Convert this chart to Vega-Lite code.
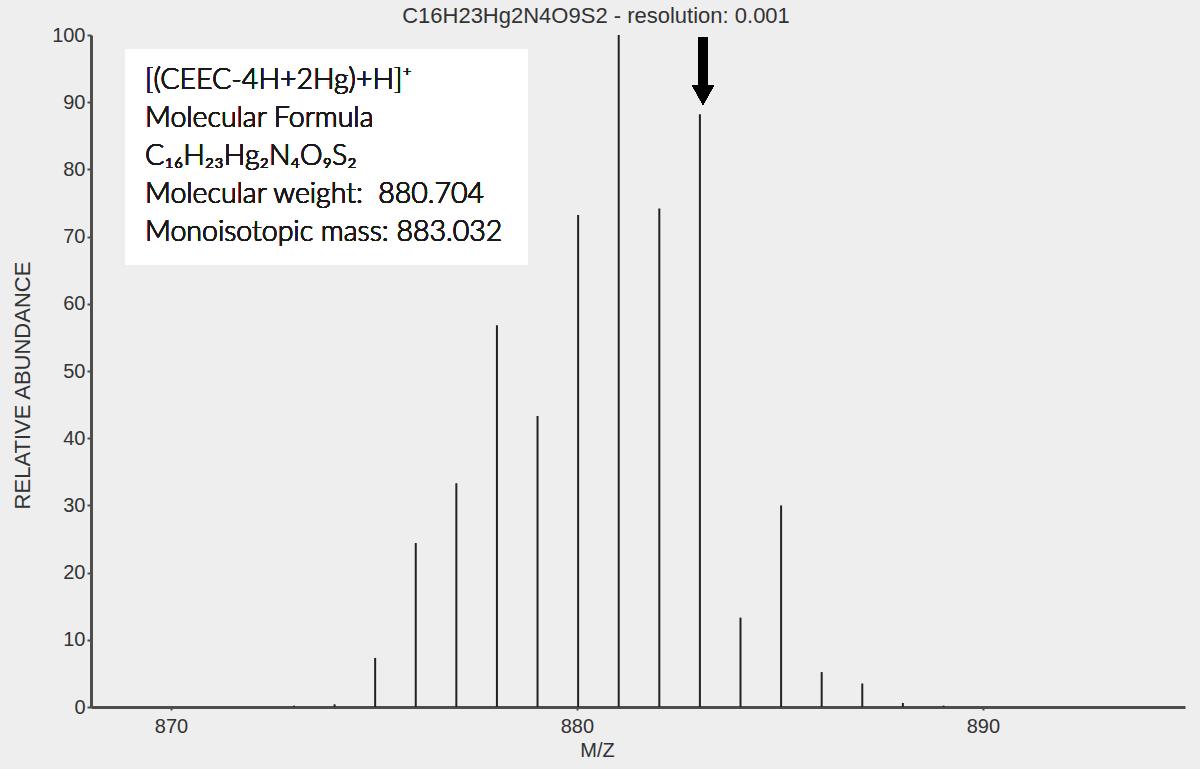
{
  "$schema": "https://vega.github.io/schema/vega-lite/v6.json",
  "width": 1094,
  "height": 672,
  "autosize": {"type": "none"},
  "padding": {"left": 91, "top": 35, "right": 15, "bottom": 62},
  "background": "#eeeeee",
  "title": {
    "text": "C16H23Hg2N4O9S2 - resolution: 0.001",
    "font": "Liberation Sans",
    "fontSize": 22,
    "fontWeight": "normal",
    "color": "#333333",
    "anchor": "middle",
    "frame": "group",
    "dx": -42,
    "dy": 7,
    "offset": 4
  },
  "config": {
    "view": {"stroke": null, "fill": "#eeeeee"},
    "axis": {
      "labelFont": "Liberation Sans",
      "titleFont": "Liberation Sans",
      "labelColor": "#333333",
      "titleColor": "#333333",
      "domainColor": "#4d4d4d",
      "tickColor": "#4d4d4d",
      "grid": false
    }
  },
  "data": {
    "values": [
      {"mz": 873.03, "abundance": 0.2},
      {"mz": 874.03, "abundance": 0.4},
      {"mz": 875.03, "abundance": 7.3},
      {"mz": 876.03, "abundance": 24.4},
      {"mz": 877.03, "abundance": 33.3},
      {"mz": 878.03, "abundance": 56.8},
      {"mz": 879.03, "abundance": 43.3},
      {"mz": 880.03, "abundance": 73.2},
      {"mz": 881.03, "abundance": 100},
      {"mz": 882.03, "abundance": 74.2},
      {"mz": 883.03, "abundance": 88.2},
      {"mz": 884.03, "abundance": 13.3},
      {"mz": 885.03, "abundance": 30.0},
      {"mz": 886.03, "abundance": 5.2},
      {"mz": 887.03, "abundance": 3.5},
      {"mz": 888.03, "abundance": 0.6},
      {"mz": 889.03, "abundance": 0.2}
    ]
  },
  "layer": [
    {
      "mark": {"type": "rule", "strokeWidth": 2, "color": "#222222"},
      "encoding": {
        "x": {
          "field": "mz",
          "type": "quantitative",
          "scale": {"domain": [868.03, 894.98], "nice": false, "zero": false},
          "axis": {
            "title": "M/Z",
            "values": [870, 880, 890],
            "format": "d",
            "labelFontSize": 20,
            "titleFontSize": 20,
            "titleFontWeight": "normal",
            "labelPadding": 6,
            "tickSize": 3,
            "domainWidth": 3,
            "tickWidth": 2,
            "titleX": 506,
            "titleY": 43,
            "titleBaseline": "middle"
          }
        },
        "y": {
          "field": "abundance",
          "type": "quantitative",
          "scale": {"domain": [0, 100], "nice": false},
          "axis": {
            "title": "RELATIVE ABUNDANCE",
            "values": [0, 10, 20, 30, 40, 50, 60, 70, 80, 90, 100],
            "labelFontSize": 20,
            "titleFontSize": 22,
            "titleFontWeight": "normal",
            "tickSize": 4,
            "labelPadding": 2,
            "domainWidth": 3,
            "tickWidth": 2,
            "titleX": -69,
            "titleY": 350,
            "titleBaseline": "middle"
          }
        },
        "y2": {"datum": 0}
      }
    },
    {
      "mark": {"type": "rect", "fill": "#ffffff", "stroke": null},
      "encoding": {
        "x": {"datum": 868.868},
        "x2": {"datum": 878.795},
        "y": {"datum": 97.8},
        "y2": {"datum": 65.8}
      }
    },
    {
      "mark": {
        "type": "text",
        "align": "left",
        "baseline": "alphabetic",
        "font": "Lato",
        "fontWeight": 300,
        "fontSize": 28.5,
        "lineHeight": 38,
        "color": "#1a1a1a",
        "text": [
          "[(CEEC-4H+2Hg)+H]⁺",
          "Molecular Formula",
          "C₁₆H₂₃Hg₂N₄O₉S₂",
          "Molecular weight:\u00a0 880.704",
          "Monoisotopic mass: 883.032"
        ]
      },
      "encoding": {
        "x": {"datum": 869.36},
        "y": {"datum": 91.96}
      }
    },
    {
      "mark": {"type": "rule", "strokeWidth": 9, "color": "#000000"},
      "encoding": {
        "x": {"datum": 883.107},
        "y": {"datum": 99.6},
        "y2": {"datum": 92.0}
      }
    },
    {
      "mark": {
        "type": "point",
        "shape": "M-1,-0.9L1,-0.9L0,0.9Z",
        "filled": true,
        "size": 484,
        "color": "#000000",
        "opacity": 1
      },
      "encoding": {
        "x": {"datum": 883.107},
        "y": {"datum": 91.1}
      }
    }
  ]
}
